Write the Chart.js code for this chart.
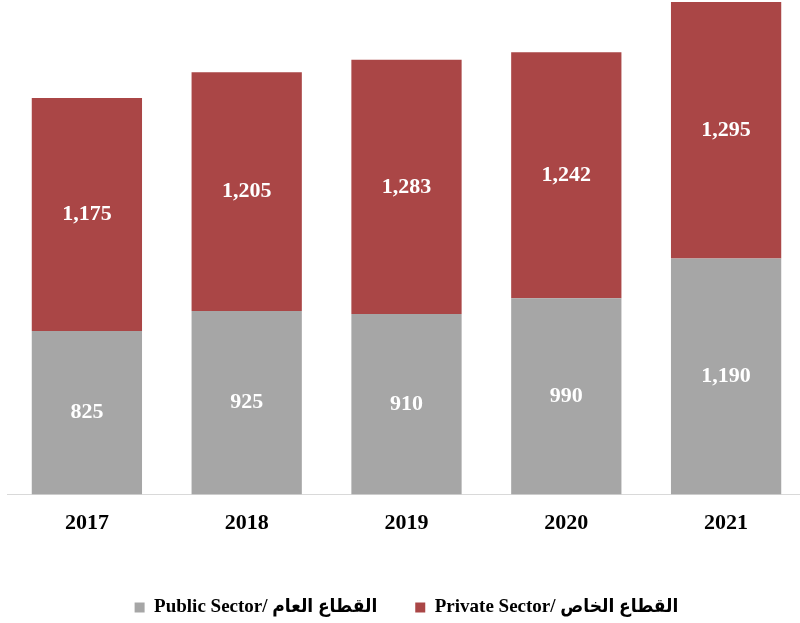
<!DOCTYPE html>
<html>
<head>
<meta charset="utf-8">
<script src="https://cdn.jsdelivr.net/npm/chart.js@4/dist/chart.umd.min.js"></script>
<style>
  html, body { margin: 0; padding: 0; background: #fff; overflow: hidden; }
  #wrap { width: 806px; height: 623px; }
</style>
</head>
<body>
<div id="wrap"><canvas id="chart" width="806" height="623"></canvas></div>
<script>
const years = ['2017', '2018', '2019', '2020', '2021']
const publicSector = [825, 925, 910, 990, 1190]
const privateSector = [1175, 1205, 1283, 1242, 1295]

const publicLabel = 'Public Sector/ القطاع العام'
const privateLabel = 'Private Sector/ القطاع الخاص'

const serif = "'Liberation Serif', 'Times New Roman', 'DejaVu Sans Condensed', serif"

// draws the white value inside each bar segment
const barValues = {
  id: 'barValues',
  afterDatasetsDraw(chart) {
    const ctx = chart.ctx
    ctx.save()
    ctx.font = "bold 22px " + serif
    ctx.fillStyle = '#ffffff'
    ctx.textAlign = 'center'
    ctx.textBaseline = 'middle'
    chart.data.datasets.forEach((ds, i) => {
      chart.getDatasetMeta(i).data.forEach((bar, j) => {
        const p = bar.getCenterPoint()
        ctx.fillText(ds.data[j].toLocaleString('en-US'), p.x, p.y)
      })
    })
    ctx.restore()
  }
}

new Chart(document.getElementById('chart').getContext('2d'), {
  type: 'bar',
  data: {
    labels: years,
    datasets: [
      {
        label: publicLabel,
        data: publicSector,
        backgroundColor: '#a6a6a6',
        barPercentage: 0.69,
        categoryPercentage: 1
      }, {
        label: privateLabel,
        data: privateSector,
        backgroundColor: '#aa4646',
        barPercentage: 0.69,
        categoryPercentage: 1
      }
    ]
  },
  options: {
    responsive: false,
    animation: false,
    layout: { padding: { left: 7, right: 0, top: 2, bottom: -4 } },
    scales: {
      x: {
        stacked: true,
        grid: { display: false },
        border: { display: true, color: '#d9d9d9', width: 1 },
        ticks: {
          color: '#000',
          padding: 8,
          font: { family: serif, size: 22, weight: 'bold' }
        },
        // empty title only used as spacer above the legend
        title: { display: true, text: '', font: { size: 1 }, padding: { top: 14, bottom: 0 } }
      },
      y: {
        stacked: true,
        display: false,
        min: 0,
        max: 2485
      }
    },
    plugins: {
      tooltip: { enabled: false },
      legend: {
        position: 'bottom',
        labels: {
          boxWidth: 10,
          boxHeight: 10,
          padding: 38,
          color: '#000',
          font: { family: serif, size: 19, weight: 'bold' }
        }
      }
    }
  },
  plugins: [barValues]
})
</script>
</body>
</html>
